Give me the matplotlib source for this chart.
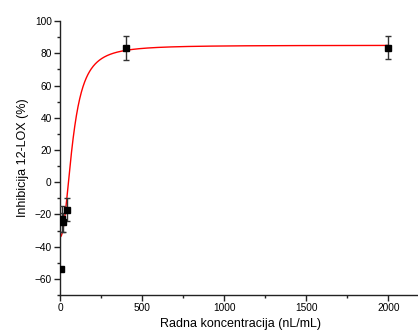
import numpy as np
import matplotlib
matplotlib.use("Agg")
import matplotlib.pyplot as plt
from matplotlib.ticker import MultipleLocator

plt.rcParams['font.family'] = ['Liberation Sans', 'DejaVu Sans']

# data points
conc = [5, 10, 20, 40, 400, 2000]
inhib = [-54, -23, -25, -17, 83.5, 83.5]
err = [0, 8, 6, 7, 7.5, 7.0]

# fitted dose-response parameters
A1, A2, x0, p = -34.0, 85.0, 78.0, 2.2

fig = plt.figure(figsize=(4.18, 3.35), dpi=100)
ax = fig.add_axes([0.1435, 0.1194, 0.864, 0.8176])

xf = np.linspace(0, 2000, 800)
yf = A2 + (A1 - A2) / (1 + (xf / x0) ** p)
ax.plot(xf, yf, color='#ff0000', lw=1.0, zorder=2)

ax.errorbar(conc, inhib, yerr=err, fmt='s', color='black', ms=4.8,
            ecolor='#333333', elinewidth=1.0, capsize=2.3, capthick=1.0, zorder=3)

ax.set_xlim(0, 2200)
ax.set_ylim(-70, 100)
ax.xaxis.set_major_locator(MultipleLocator(500))
ax.xaxis.set_minor_locator(MultipleLocator(250))
ax.yaxis.set_major_locator(MultipleLocator(20))
ax.yaxis.set_minor_locator(MultipleLocator(10))
for s in ['top', 'right']:
    ax.spines[s].set_visible(False)
for s in ['left', 'bottom']:
    ax.spines[s].set_linewidth(1.0)
    ax.spines[s].set_color('#222222')
ax.tick_params(which='major', direction='out', length=4, width=1, labelsize=7.3, colors='#222222', labelcolor='black', pad=2)
ax.tick_params(which='minor', direction='out', length=2.5, width=1, colors='#222222')

ax.set_xlabel('Radna koncentracija (nL/mL)', fontsize=9, labelpad=3)
ax.set_ylabel('Inhibicija 12-LOX (%)', fontsize=9, labelpad=4)

fig.savefig('out.png', dpi=100)
